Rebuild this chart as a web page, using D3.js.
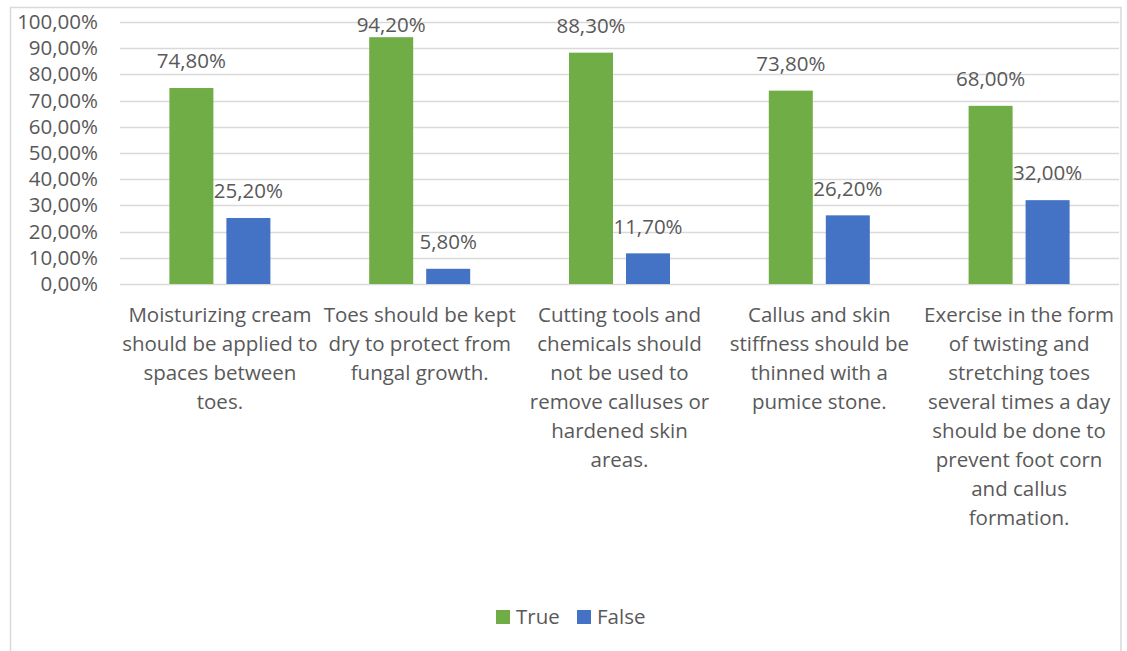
<!DOCTYPE html>
<html>
<head>
<meta charset="utf-8">
<script src="https://cdn.jsdelivr.net/npm/d3@7"></script>
<style>
  body { margin: 0; background: #fff; }
  svg { display: block; font-family: "Open Sans", sans-serif; }
</style>
</head>
<body>
<svg id="chart" width="1127" height="651"></svg>
<script>
// Chart values
var categories = ["c1", "c2", "c3", "c4", "c5"];
var categoryLines = [
  ["Moisturizing cream", "should be applied to", "spaces between", "toes."],
  ["Toes should be kept", "dry to protect from", "fungal growth."],
  ["Cutting tools and", "chemicals should", "not be used to", "remove calluses or", "hardened skin", "areas."],
  ["Callus and skin", "stiffness should be", "thinned with a", "pumice stone."],
  ["Exercise in the form", "of twisting and", "stretching toes", "several times a day", "should be done to", "prevent foot corn", "and callus", "formation."]
];
var seriesNames = ["True", "False"];
var trueValues = [74.8, 94.2, 88.3, 73.8, 68.0];
var falseValues = [25.2, 5.8, 11.7, 26.2, 32.0];
var yTicks = [0, 10, 20, 30, 40, 50, 60, 70, 80, 90, 100];
var colors = ["#70AD47", "#4472C4"];

var plot = {left: 120, right: 1119, top: 22, bottom: 284};
var fontSize = 20.5, textColor = "#595959";
var barWidth = 44, barGap = 13;

function pct(v) { return v.toFixed(2).replace(".", ",") + "%"; }

var svg = d3.select("#chart");

// outer chart border
svg.append("rect")
  .attr("x", 10.5).attr("y", 7.5)
  .attr("width", 1110.5).attr("height", 700)
  .attr("fill", "none").attr("stroke", "#D9D9D9").attr("stroke-width", 1.5);

var y = d3.scaleLinear().domain([0, 100]).range([plot.bottom, plot.top]);
var x = d3.scaleBand().domain(categories).range([plot.left, plot.right]);
var xs = d3.scaleOrdinal().domain(seriesNames).range([-barGap / 2 - barWidth, barGap / 2]);

// gridlines
svg.append("g").selectAll("line")
  .data(yTicks)
  .enter().append("line")
    .attr("x1", plot.left).attr("x2", plot.right)
    .attr("y1", function(d) { return Math.round(y(d)) + 0.5; })
    .attr("y2", function(d) { return Math.round(y(d)) + 0.5; })
    .attr("stroke", "#D9D9D9").attr("stroke-width", 1.5);

// y axis labels
var yAxis = d3.axisLeft(y).tickValues(yTicks).tickSize(0).tickPadding(0)
  .tickFormat(pct);
svg.append("g")
  .attr("transform", "translate(98,0)")
  .call(yAxis)
  .call(function(g) { g.select(".domain").remove(); })
  .selectAll("text")
    .attr("fill", textColor)
    .style("font-size", fontSize + "px")
    .style("font-family", "'Open Sans', sans-serif");

// bars
var series = [trueValues, falseValues];
series.forEach(function(vals, s) {
  var g = svg.append("g");
  g.selectAll("rect")
    .data(vals)
    .enter().append("rect")
      .attr("x", function(d, i) { return x(categories[i]) + x.bandwidth() / 2 + xs(seriesNames[s]); })
      .attr("y", function(d) { return y(d); })
      .attr("width", barWidth)
      .attr("height", function(d) { return y(0) - y(d); })
      .attr("fill", colors[s]);
  g.selectAll("text")
    .data(vals)
    .enter().append("text")
      .attr("x", function(d, i) { return x(categories[i]) + x.bandwidth() / 2 + xs(seriesNames[s]) + barWidth / 2; })
      .attr("y", function(d) { return Math.max(y(d) - 27, 25); })
      .attr("dy", "0.35em")
      .attr("text-anchor", "middle")
      .attr("fill", textColor)
      .style("font-size", fontSize + "px")
      .text(pct);
});

// category labels
var xl = svg.append("g");
categoryLines.forEach(function(lines, i) {
  var t = xl.append("text")
    .attr("text-anchor", "middle")
    .attr("fill", textColor)
    .style("font-size", fontSize + "px");
  lines.forEach(function(line, k) {
    t.append("tspan")
      .attr("x", x(categories[i]) + x.bandwidth() / 2)
      .attr("y", 315 + k * 29)
      .attr("dy", "0.35em")
      .text(line);
  });
});

// legend
var legend = svg.append("g");
var legendX = [496, 577];
seriesNames.forEach(function(name, s) {
  legend.append("rect")
    .attr("x", legendX[s]).attr("y", 610)
    .attr("width", 14).attr("height", 14)
    .attr("fill", colors[s]);
  legend.append("text")
    .attr("x", legendX[s] + 20).attr("y", 617)
    .attr("dy", "0.35em")
    .attr("fill", textColor)
    .style("font-size", fontSize + "px")
    .text(name);
});
</script>
</body>
</html>
